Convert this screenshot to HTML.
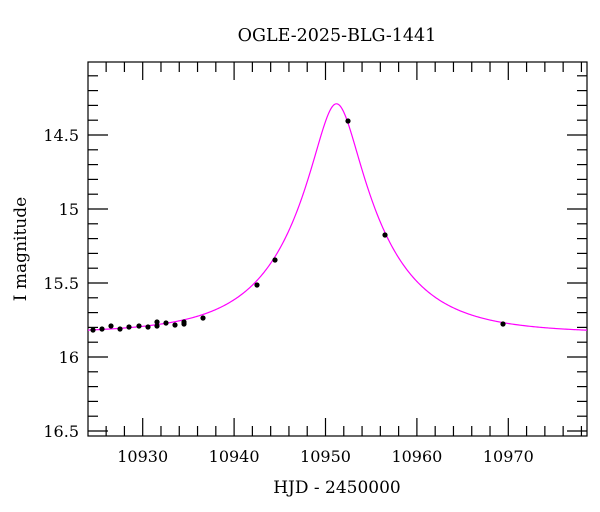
<!DOCTYPE html>
<html><head><meta charset="utf-8"><style>
html,body{margin:0;padding:0;background:#fff}
svg{display:block;font-family:"DejaVu Serif",serif}
</style></head><body>
<svg id="s" width="600" height="512" xmlns="http://www.w3.org/2000/svg">
<text x="337" y="41" font-size="17.5" text-anchor="middle">OGLE-2025-BLG-1441</text>
<text x="337" y="493" font-size="17" text-anchor="middle">HJD - 2450000</text>
<text transform="translate(26,249) rotate(-90)" font-size="17" text-anchor="middle">I magnitude</text>
<g id="ax" stroke="#000" stroke-width="1.2" fill="none"></g>
<g id="lab" font-size="16"></g>
<clipPath id="c"><rect x="88" y="62" width="499" height="374"/></clipPath>
<path id="curve" fill="none" stroke="#ff00ff" stroke-width="1.2" clip-path="url(#c)"/>
<g id="pts" fill="#000"></g>
</svg>
<script>
var L=88,R=587,T=62,B=436;
function X(t){return 142.7+(t-10930)*9.14;}
function Y(m){return 135+(m-14.5)*148;}
var ax=document.getElementById('ax'),lab=document.getElementById('lab'),ns="http://www.w3.org/2000/svg";
function ln(x1,y1,x2,y2){var e=document.createElementNS(ns,'line');e.setAttribute('x1',x1);e.setAttribute('y1',y1);e.setAttribute('x2',x2);e.setAttribute('y2',y2);ax.appendChild(e);}
function tx(x,y,s,a){var e=document.createElementNS(ns,'text');e.setAttribute('x',x);e.setAttribute('y',y);e.setAttribute('text-anchor',a);e.textContent=s;lab.appendChild(e);}
var r=document.createElementNS(ns,'rect');r.setAttribute('x',L);r.setAttribute('y',T);r.setAttribute('width',R-L);r.setAttribute('height',B-T);ax.appendChild(r);
for(var t=10926;t<=10978;t+=2){var x=X(t),maj=(t%10==0),l=maj?18:10;ln(x,B,x,B-l);ln(x,T,x,T+l);if(maj)tx(x,462,String(t),'middle');}
for(var i=141;i<=165;i++){var m=i/10,y=Y(m);if(y<T||y>B)continue;var maj=(i%5==0),l=maj?20:10;ln(L,y,L+l,y);ln(R,y,R-l,y);if(maj)tx(79,y+6,(i%10==0)?String(i/10):m.toFixed(1),'end');}
var t0=10951.2,u0=0.245,tE=9.6,base=15.84,d="";
for(var px=L;px<=R;px+=1){var t=10930+(px-142.7)/9.14,tau=(t-t0)/tE,u=Math.sqrt(u0*u0+tau*tau),A=(u*u+2)/(u*Math.sqrt(u*u+4)),m=base-2.5*Math.log10(A);d+=(px==L?"M":"L")+px+","+Y(m).toFixed(2);}
document.getElementById('curve').setAttribute('d',d);
var P=[[93,330],[102,329],[111,326],[120,329],[129,327],[139,326],[148,327],[157,322],[157,326],[166,323],[175,325],[184,322],[184,324],[203,318],[257,285],[275,260],[348,121],[385,235],[503,324]];
var g=document.getElementById('pts');
P.forEach(function(p){var c=document.createElementNS(ns,'circle');c.setAttribute('cx',p[0]);c.setAttribute('cy',p[1]);c.setAttribute('r',2.6);g.appendChild(c);});
</script>
</body></html>
